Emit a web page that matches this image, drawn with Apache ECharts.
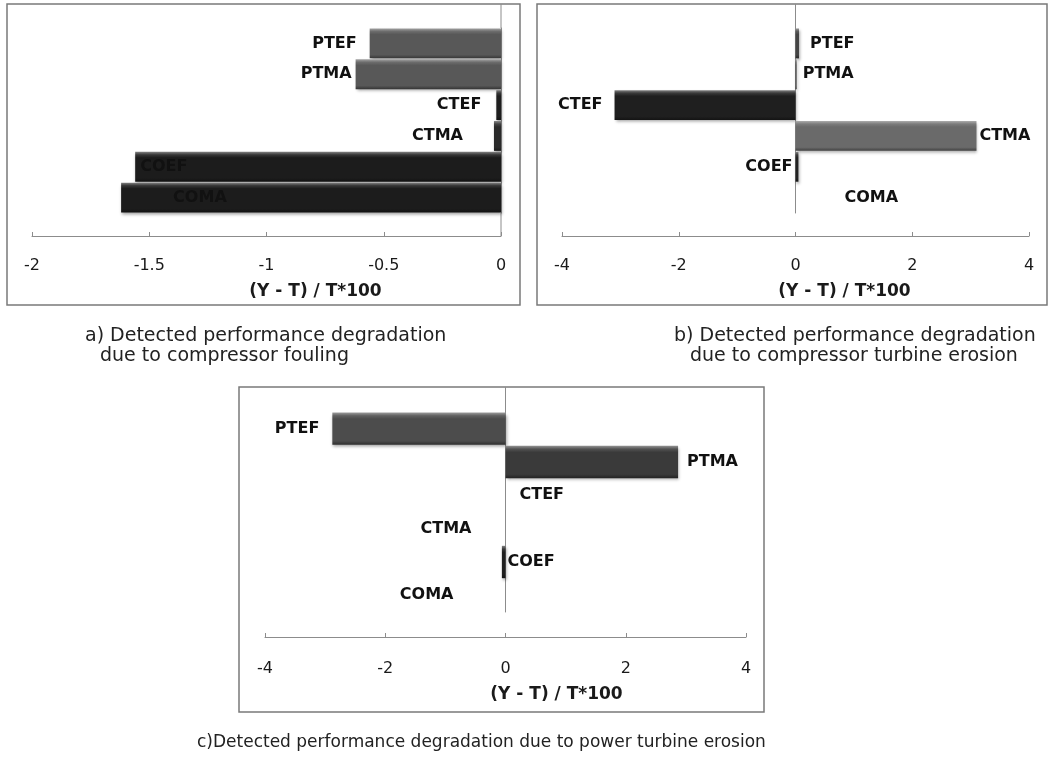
<!DOCTYPE html>
<html>
<head>
<meta charset="utf-8">
<script src="https://cdn.jsdelivr.net/npm/echarts@6/dist/echarts.min.js"></script>
<style>
html,body{margin:0;padding:0;background:#fff}
#main{width:1051px;height:770px}
</style>
</head>
<body>
<div id="main"></div>
<script>
// categories and values
var categories = ['PTEF', 'PTMA', 'CTEF', 'CTMA', 'COEF', 'COMA'];
var foulingValues = [-0.56, -0.62, -0.02, -0.03, -1.56, -1.62];
var ctErosionValues = [0.06, 0.02, -3.1, 3.1, 0.05, 0];
var ptErosionValues = [-2.88, 2.87, 0, 0, -0.06, 0];
var ticksA = [-2, -1.5, -1, -0.5, 0];
var ticksB = [-4, -2, 0, 2, 4];
var ticksC = [-4, -2, 0, 2, 4];
var axisTitle = '(Y - T) / T*100';
var captionA = ['a) Detected performance degradation', 'due to compressor fouling'];
var captionB = ['b) Detected performance degradation', 'due to compressor turbine erosion'];
var captionC = ['c)Detected performance degradation due to power turbine erosion'];

var panels = [
  {
    values: foulingValues, ticks: ticksA,
    colors: ['#585858', '#585858', '#1e1e1e', '#2a2a2a', '#1c1c1c', '#1c1c1c'],
    labelPos: ['left', 'left', 'left', 'left', 'insideLeft', 'insideLeft'],
    labelDist: [13, 4, 15, 31, 5, 52],
    box: [7, 4, 513, 301],
    grid: { left: 32, top: 28, width: 469, height: 185 },
    offset: 23, margin: 22, nameGap: 47, namePad: 98, zeroToAxis: true
  },
  {
    values: ctErosionValues, ticks: ticksB,
    colors: ['#444444', '#444444', '#1f1f1f', '#6a6a6a', '#222222', '#222222'],
    labelPos: ['right', 'right', 'left', 'right', 'left', 'right'],
    labelDist: [11, 6, 12, 3, 3, 49],
    box: [537, 4, 510, 301],
    grid: { left: 562, top: 28, width: 467, height: 185 },
    offset: 23, margin: 22, nameGap: 47, namePad: 98, zeroToAxis: false
  },
  {
    values: ptErosionValues, ticks: ticksC,
    colors: ['#4c4c4c', '#3a3a3a', '#333333', '#333333', '#1e1e1e', '#333333'],
    labelPos: ['left', 'right', 'right', 'left', 'right', 'left'],
    labelDist: [13, 9, 14, 34, 2, 52],
    box: [239, 387, 525, 325],
    grid: { left: 265, top: 412, width: 481, height: 200 },
    offset: 25, margin: 24, nameGap: 49, namePad: 102, zeroToAxis: false
  }
];

function mix(hex, target, t) {
  var a = parseInt(hex.slice(1), 16), b = parseInt(target.slice(1), 16);
  var r = Math.round(((a >> 16) & 255) * (1 - t) + ((b >> 16) & 255) * t);
  var g = Math.round(((a >> 8) & 255) * (1 - t) + ((b >> 8) & 255) * t);
  var bl = Math.round((a & 255) * (1 - t) + (b & 255) * t);
  return 'rgb(' + r + ',' + g + ',' + bl + ')';
}

// bevelled look of the original bars
function barFill(c) {
  return new echarts.graphic.LinearGradient(0, 0, 0, 1, [
    { offset: 0, color: mix(c, '#ffffff', 0.45) },
    { offset: 0.1, color: mix(c, '#ffffff', 0.12) },
    { offset: 0.2, color: c },
    { offset: 0.88, color: c },
    { offset: 1, color: mix(c, '#000000', 0.4) }
  ]);
}

var grids = [], xAxes = [], yAxes = [], series = [], graphics = [];

panels.forEach(function (p, i) {
  grids.push(p.grid);
  xAxes.push({
    type: 'value', gridIndex: i,
    min: p.ticks[0], max: p.ticks[p.ticks.length - 1], interval: p.ticks[1] - p.ticks[0],
    offset: p.offset,
    axisLine: { show: true, onZero: false, lineStyle: { color: '#8c8c8c', width: 1 } },
    axisTick: { show: true, inside: true, length: 4, lineStyle: { color: '#8c8c8c' } },
    axisLabel: { margin: p.margin, color: '#1a1a1a', fontSize: 16, fontFamily: 'DejaVu Sans' },
    splitLine: { show: false },
    name: axisTitle, nameLocation: 'middle', nameGap: p.nameGap,
    nameTextStyle: { color: '#1a1a1a', fontSize: 17, fontWeight: 'bold', fontFamily: 'DejaVu Sans', padding: [0, 0, 0, p.namePad] }
  });
  yAxes.push({
    type: 'category', gridIndex: i, data: categories, inverse: true,
    axisLine: { show: true, onZero: true, lineStyle: { color: '#8c8c8c', width: 1 } },
    axisTick: { show: false }, axisLabel: { show: false }, splitLine: { show: false }
  });
  series.push({
    type: 'bar', xAxisIndex: i, yAxisIndex: i,
    barCategoryGap: '3%',
    data: p.values.map(function (v, k) {
      return {
        value: v,
        itemStyle: { color: barFill(p.colors[k]) },
        label: { position: p.labelPos[k], distance: p.labelDist[k] }
      };
    }),
    label: { show: true, formatter: '{b}', color: '#111', fontSize: 16, fontWeight: 'bold', fontFamily: 'DejaVu Sans' },
    itemStyle: { shadowColor: 'rgba(0,0,0,0.35)', shadowBlur: 3, shadowOffsetX: 1, shadowOffsetY: 2 }
  });
  graphics.push({
    type: 'rect', silent: true, z: 0,
    shape: { x: p.box[0], y: p.box[1], width: p.box[2], height: p.box[3] },
    style: { fill: null, stroke: '#7a7a7a', lineWidth: 1.5 }
  });
});

function captionText(lines, x, y, indent, size) {
  lines.forEach(function (t, k) {
    graphics.push({
      type: 'text', left: x + (k ? indent : 0), top: y + k * 20,
      style: { text: t, fill: '#222', font: size + 'px "DejaVu Sans"' }
    });
  });
}
captionText(captionA, 85, 327, 15, 19);
captionText(captionB, 674, 327, 16, 19);
captionText(captionC, 197, 734, 0, 17);

var myChart = echarts.init(document.getElementById('main'));
myChart.setOption({
  animation: false,
  grid: grids, xAxis: xAxes, yAxis: yAxes, series: series,
  graphic: graphics
});

// the zero line of the original runs above the bars up to the frame
var extra = [];
panels.forEach(function (p, i) {
  var zx = myChart.convertToPixel({ xAxisIndex: i }, 0);
  extra.push({
    type: 'line', silent: true,
    shape: { x1: zx, y1: p.box[1], x2: zx, y2: p.grid.top },
    style: { stroke: '#8c8c8c', lineWidth: 1 }
  });
  if (p.zeroToAxis) {
    extra.push({
      type: 'line', silent: true,
      shape: { x1: zx, y1: p.grid.top + p.grid.height, x2: zx, y2: p.grid.top + p.grid.height + p.offset },
      style: { stroke: '#8c8c8c', lineWidth: 1 }
    });
  }
});
myChart.setOption({ graphic: graphics.concat(extra) });

window.addEventListener('resize', function () {
  myChart.resize();
});
</script>
</body>
</html>
